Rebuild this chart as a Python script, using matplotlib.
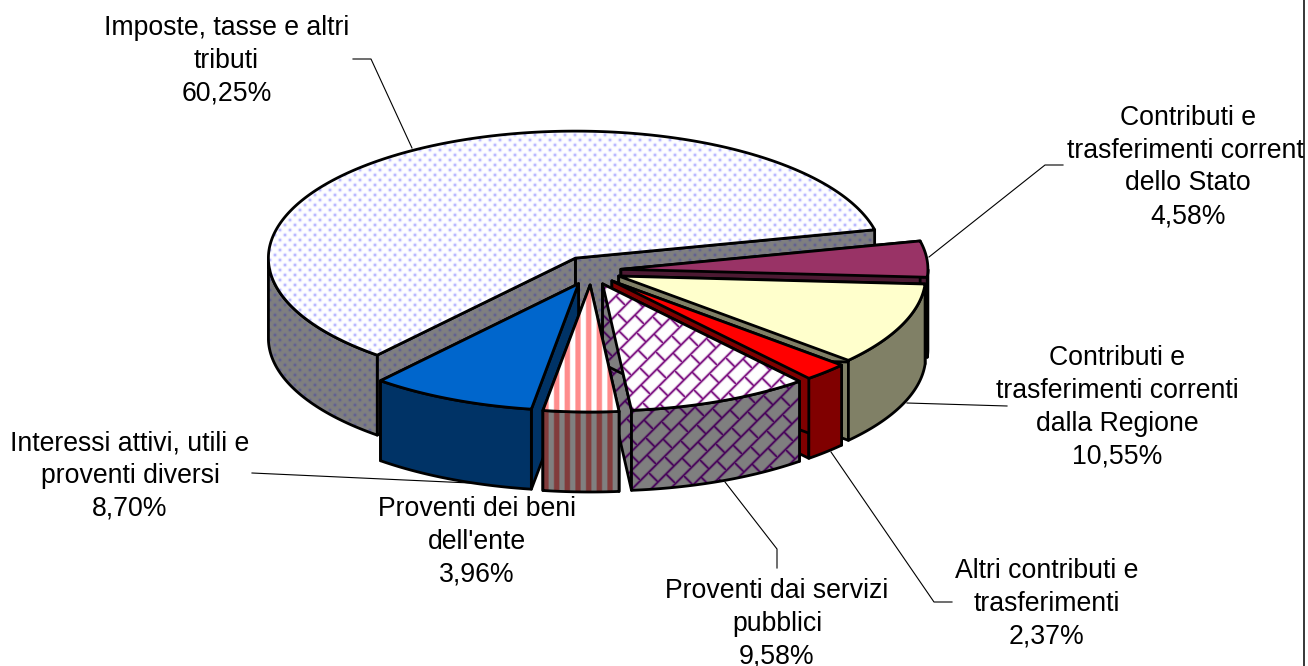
import numpy as np
import matplotlib
matplotlib.use("Agg")
import matplotlib.pyplot as plt
from matplotlib.patches import Polygon, Rectangle

W, H = 1308, 666

# ---------- data ----------
names = ["Imposte, tasse e altri\ntributi",
         "Contributi e\ntrasferimenti correnti\ndello Stato",
         "Contributi e\ntrasferimenti correnti\ndalla Regione",
         "Altri contributi e\ntrasferimenti",
         "Proventi dai servizi\npubblici",
         "Proventi dei beni\ndell'ente",
         "Interessi attivi, utili e\nproventi diversi"]
shares = [60.25, 4.58, 10.55, 2.37, 9.58, 3.96, 8.70]
pct_labels = ["60,25%", "4,58%", "10,55%", "2,37%", "9,58%", "3,96%", "8,70%"]

label_pos = [(226.5, 61), (1188, 167), (1117, 407.5), (1047, 604),
             (777, 624), (477, 542), (130, 476)]
leaders = [[(353, 59), (371, 59), (412, 148)],
           [(1063, 165), (1045, 165), (929, 257)],
           [(1007, 406), (907, 403)],
           [(952, 602), (934, 602), (831, 452)],
           [(777, 568), (777, 549), (725, 482)],
           [(252, 473), (470, 483)]]

# ---------- pie geometry ----------
CX, CY = 591.0, 270.5
A, B = 307.0, 127.0
EX, EY = 30.0, 14.5
DEPTH = 80.0
START = 12.9

# ---------- textures ----------
yy, xx = np.mgrid[0:H, 0:W] + 0.5

def dots():
    u, v = (xx + yy) / 10, (xx - yy) / 10
    d2 = ((u - np.round(u))**2 + (v - np.round(v))**2) * 50
    return np.exp(-d2 / 2.4)

def bricks(P=19.0, Q=32.0, w=1.15):
    s = (xx + yy) / P
    row = np.floor(s)
    d1 = np.abs(s - np.round(s)) * P / np.sqrt(2)
    t = (xx - yy) / Q + 0.5 * row
    d2 = np.abs(t - np.round(t)) * Q / np.sqrt(2)
    return np.maximum(np.exp(-(d1 / w)**2), np.exp(-(d2 / w)**2))

def stripes(P=10.67, phase=546.0):
    return np.clip(0.5 + 1.2 * np.cos(2 * np.pi * (xx - phase) / P), 0, 1)

def tex(mask, bg, fg):
    bg, fg = np.array(bg, float), np.array(fg, float)
    return ((bg[None, None] * (1 - mask[..., None]) + fg[None, None] * mask[..., None])).astype(np.uint8)

GREY = (128, 128, 128)
top_fill = [tex(dots(), (255, 255, 255), (170, 170, 255)), "#993366", "#FFFFCC", "#FF0000",
            tex(bricks(), (255, 255, 255), (120, 10, 125)),
            tex(stripes(), (255, 255, 255), (255, 140, 140)), "#0066CC"]
side_fill = [tex(dots(), GREY, (92, 92, 150)), "#4D1A33", "#808066", "#800000",
             tex(bricks(), GREY, (70, 0, 90)),
             tex(stripes(), GREY, (130, 60, 60)), "#003366"]

# ---------- drawing ----------
fig = plt.figure(figsize=(W / 100, H / 100), dpi=100)
ax = fig.add_axes([0, 0, 1, 1])
ax.set_xlim(0, W)
ax.set_ylim(H, 0)
ax.axis("off")

z = [2]

def shape(pts, fill):
    z[0] += 2
    poly = Polygon(pts, closed=True, transform=ax.transData, lw=2.0, joinstyle="round",
                   edgecolor="black", facecolor="none" if not isinstance(fill, str) else fill,
                   zorder=z[0] + 1)
    ax.add_patch(poly)
    if not isinstance(fill, str):
        im = ax.imshow(fill, extent=(0, W, H, 0), interpolation="nearest", aspect="auto", zorder=z[0])
        im.set_clip_path(poly)

# the first slice runs anticlockwise from START; the others clockwise
spans = [s * 3.6 for s in shares]
bounds = [(START, START + spans[0])]
cur = START
for sp in spans[1:]:
    bounds.append((cur - sp, cur))
    cur -= sp

for i in [0, 1, 2, 3, 4, 6, 5]:
    lo, hi = bounds[i]
    mid = np.radians((lo + hi) / 2)
    ax_, ay_ = CX + EX * np.cos(mid), CY - EY * np.sin(mid)
    def P(t):
        t = np.radians(t)
        return np.column_stack([ax_ + A * np.cos(t), ay_ - B * np.sin(t)])
    apex = np.array([[ax_, ay_]])
    d = np.array([0, DEPTH])
    pl, ph = P(np.array([lo])), P(np.array([hi]))
    # cut faces
    shape(np.vstack([apex, pl, pl + d, apex + d]), side_fill[i])
    shape(np.vstack([apex, ph, ph + d, apex + d]), side_fill[i])
    # outer wall: only the arc in the lower half of the ellipse shows
    ts = np.linspace(lo, hi, 200)
    ts = ts[np.sin(np.radians(ts)) <= 0]
    if len(ts) > 1:
        arc = P(ts)
        shape(np.vstack([arc, arc[::-1] + d]), side_fill[i])
    # top
    arc = P(np.linspace(lo, hi, 300))
    shape(np.vstack([apex, arc]), top_fill[i])

for pts in leaders:
    xs, ys = zip(*pts)
    ax.plot(xs, ys, color="black", lw=0.8, zorder=1)

clip = Rectangle((0, 0), 1304, H, transform=ax.transData)
for name, pct, (x, y) in zip(names, pct_labels, label_pos):
    t = ax.text(x, y, name + "\n" + pct, ha="center", va="center", multialignment="center",
                fontsize=19.2, family="Liberation Sans", color="black", linespacing=1.34,
                zorder=200, clip_on=True)
    t.set_clip_path(clip)

ax.plot([1304, 1304], [0, H], color="black", lw=1.1, zorder=201, clip_on=False)

fig.savefig("out.png", dpi=100)
